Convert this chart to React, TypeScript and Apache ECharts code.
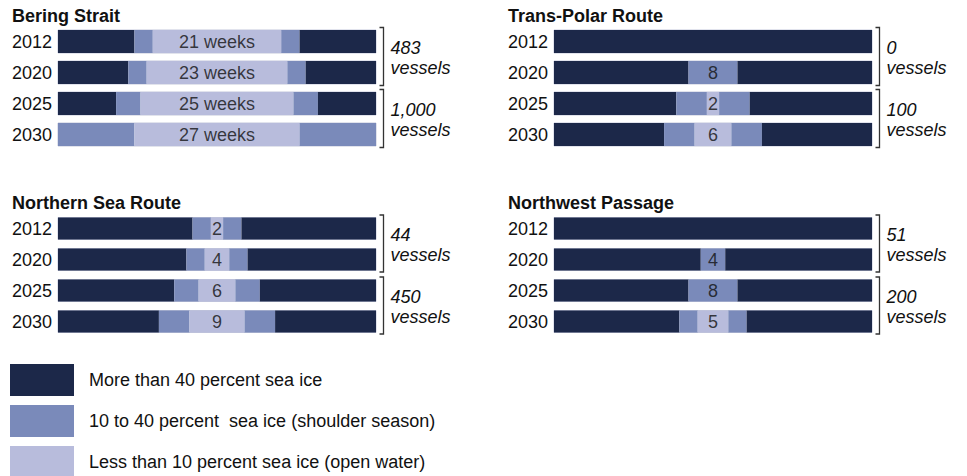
import React, { useEffect, useRef } from "react";
import * as echarts from "echarts";

const years = ["2012", "2020", "2025", "2030"];
const routes = ["Bering Strait", "Trans-Polar Route", "Northern Sea Route", "Northwest Passage"];
// weeks per year, split into five consecutive segments (ice, shoulder, open, shoulder, ice)
const iceLeading = [[12.5, 11.5, 9.5, 0], [52, 22, 20, 18], [22, 21, 19, 16.5], [52, 24, 22, 20.5]];
const shoulderLeading = [[3, 3, 4, 12.5], [0, 8, 5, 5], [3, 3, 4, 5], [0, 4, 8, 3]];
const openWater = [[21, 23, 25, 27], [0, 0, 2, 6], [2, 4, 6, 9], [0, 0, 0, 5]];
const shoulderTrailing = [[3, 3, 4, 12.5], [0, 0, 5, 5], [3, 3, 4, 5], [0, 0, 0, 3]];
const iceTrailing = [[12.5, 11.5, 9.5, 0], [0, 22, 20, 18], [22, 21, 19, 16.5], [0, 24, 22, 20.5]];
const barLabels = [
  ["21 weeks", "23 weeks", "25 weeks", "27 weeks"],
  ["", "8", "2", "6"],
  ["2", "4", "6", "9"],
  ["", "4", "8", "5"],
];
const vesselsToday = ["483", "0", "44", "51"];
const vesselsFuture = ["1,000", "100", "450", "200"];
const legendNames = [
  "More than 40 percent sea ice",
  "10 to 40 percent  sea ice (shoulder season)",
  "Less than 10 percent sea ice (open water)",
];

const COLORS = ["#1c2849", "#7a8aba", "#b8bcdc"];
const FONT = 'Arial, "Liberation Sans", sans-serif';
const TEXT = "#111111";

const PANEL_LEFT = [58, 554, 58, 554];
const PANEL_TOP = [26, 26, 213, 213];
const PANEL_W = 318;
const PANEL_H = 124;
const BAR_W = [23, 23, 22, 22];

export default function App() {
  const ref = useRef<HTMLDivElement>(null);
  useEffect(() => {
    if (!ref.current) return;
    const chart = echarts.init(ref.current, undefined, { renderer: "svg" });
    const segs = [iceLeading, shoulderLeading, openWater, shoulderTrailing, iceTrailing];
    const segKind = [0, 1, 2, 1, 0];

    const grids: any[] = [];
    const xAxes: any[] = [];
    const yAxes: any[] = [];
    const series: any[] = [];
    const graphics: any[] = [];

    for (let p = 0; p < 4; p++) {
      grids.push({ left: PANEL_LEFT[p], top: PANEL_TOP[p], width: PANEL_W, height: PANEL_H });
      xAxes.push({ type: "value", gridIndex: p, min: 0, max: 52, show: false });
      yAxes.push({
        type: "category",
        gridIndex: p,
        data: years,
        inverse: true,
        axisLine: { show: false },
        axisTick: { show: false },
        splitLine: { show: false },
        axisLabel: { fontSize: 18, color: TEXT, fontFamily: FONT, margin: 6 },
      });
      segs.forEach((s, k) => {
        series.push({
          type: "bar",
          name: legendNames[segKind[k]],
          xAxisIndex: p,
          yAxisIndex: p,
          stack: "panel" + p,
          barWidth: BAR_W[p],
          data: s[p],
          itemStyle: { color: COLORS[segKind[k]] },
          silent: true,
          showBackground: k === 0,
          backgroundStyle: { color: "rgba(0,0,0,0)", borderColor: "#c3c7da", borderWidth: 1 },
        });
      });
      const totals = years.map((_, i) => segs.reduce((a, s) => a + s[p][i], 0));
      series.push({
        type: "scatter",
        xAxisIndex: p,
        yAxisIndex: p,
        symbolSize: 1,
        itemStyle: { color: "rgba(0,0,0,0)" },
        silent: true,
        z: 5,
        data: years.map((y, i) => [totals[i] / 2, y]),
        label: {
          show: true,
          position: "inside",
          formatter: (prm: any) => barLabels[p][prm.dataIndex],
          fontSize: 18,
          color: TEXT,
          fontFamily: FONT,
        },
      });

      // panel title
      graphics.push({
        type: "text",
        x: PANEL_LEFT[p] - 46,
        y: PANEL_TOP[p] - 10,
        style: {
          text: routes[p],
          fontSize: 18,
          fontWeight: "bold",
          fontFamily: FONT,
          fill: "#111",
          verticalAlign: "middle",
        },
      });

      // brackets and vessel counts
      const band = PANEL_H / years.length;
      const center = (i: number) => PANEL_TOP[p] + band / 2 + band * i;
      const bx = PANEL_LEFT[p] + PANEL_W + 7.5;
      const counts = [vesselsToday[p], vesselsFuture[p]];
      for (let g = 0; g < 2; g++) {
        const y1 = center(2 * g) - BAR_W[p] / 2 - 2.5;
        const y2 = center(2 * g + 1) + BAR_W[p] / 2 + 1.5;
        graphics.push({
          type: "polyline",
          shape: { points: [[bx - 4, y1], [bx, y1], [bx, y2], [bx - 4, y2]] },
          style: { stroke: "#333", lineWidth: 1.3, fill: null },
        });
        graphics.push({
          type: "text",
          x: bx + 7,
          y: center(2 * g) + 6,
          style: { text: counts[g], fontSize: 18, fontStyle: "italic", fontFamily: FONT, fill: TEXT, verticalAlign: "middle" },
        });
        graphics.push({
          type: "text",
          x: bx + 7,
          y: center(2 * g + 1) - 5,
          style: { text: "vessels", fontSize: 18, fontStyle: "italic", fontFamily: FONT, fill: TEXT, verticalAlign: "middle" },
        });
      }
    }

    chart.setOption({
      animation: false,
      backgroundColor: "#ffffff",
      grid: grids,
      xAxis: xAxes,
      yAxis: yAxes,
      series,
      graphic: graphics,
      legend: {
        data: legendNames,
        orient: "vertical",
        left: 10,
        top: 364,
        width: 500,
        height: 200,
        padding: 0,
        itemWidth: 64,
        itemHeight: 32,
        itemGap: 9,
        icon: "rect",
        selectedMode: false,
        textStyle: { fontSize: 18, color: TEXT, fontFamily: FONT, padding: [0, 0, 0, 10] },
      },
    });
    return () => chart.dispose();
  }, []);
  return (
    <div
      ref={ref}
      style={{ position: "fixed", left: 0, top: 0, width: 967, height: 476, background: "#fff" }}
    />
  );
}
